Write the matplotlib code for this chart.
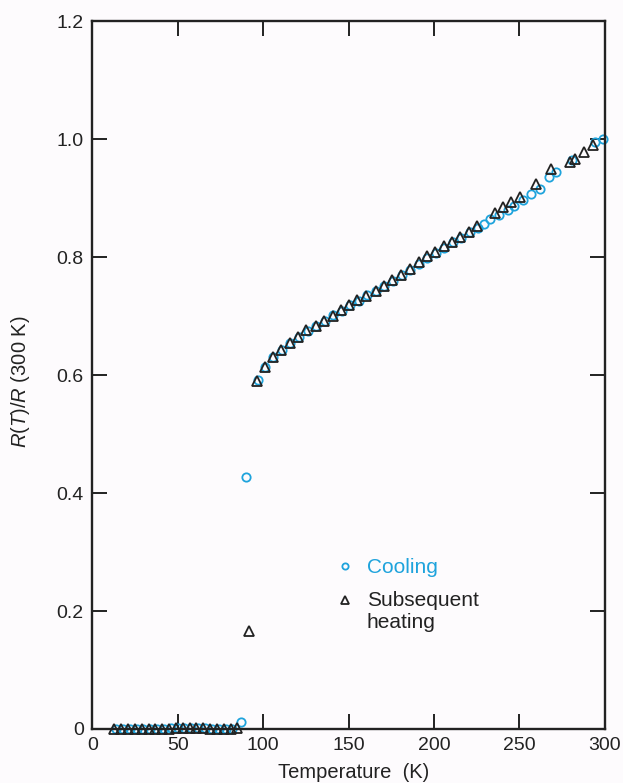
import numpy as np
import matplotlib
matplotlib.use("Agg")
import matplotlib.pyplot as plt
from matplotlib.lines import Line2D
from matplotlib.legend_handler import HandlerLine2D

plt.rcParams['font.family'] = ['Liberation Sans', 'DejaVu Sans']
plt.rcParams['mathtext.fontset'] = 'custom'
plt.rcParams['mathtext.rm'] = 'Liberation Sans'
plt.rcParams['mathtext.it'] = 'Liberation Sans:italic'

BLUE = '#1ea3dc'
INK = '#222222'
BG = '#fdfbfd'

# Cooling run (circles)
cool_T = [14, 18, 22, 26, 30, 34, 38, 42, 46, 50, 54, 58, 62, 66, 70, 74, 78, 82,
          87, 90, 97, 101, 106, 111, 116, 121, 126, 131, 136, 141, 146, 151, 156,
          161, 166, 171, 176, 181, 186, 191, 196, 201, 206, 211, 216, 221, 226,
          229, 233, 238, 243, 247, 252, 257, 262, 267, 271.5, 281, 294, 299]
cool_R = [0.0, 0.0, 0.0, 0.0, 0.0, 0.0, 0.0, 0.0, 0.002, 0.002, 0.002, 0.002,
          0.002, 0.002, 0.0, 0.0, 0.0, 0.0,
          0.012, 0.427, 0.592, 0.613, 0.630, 0.643, 0.655, 0.665, 0.675, 0.684,
          0.692, 0.701, 0.709, 0.718, 0.726, 0.735, 0.743, 0.751, 0.760, 0.769,
          0.778, 0.788, 0.798, 0.807, 0.816, 0.825, 0.833, 0.842, 0.850,
          0.856, 0.864, 0.872, 0.880, 0.887, 0.896, 0.907, 0.916, 0.936, 0.944,
          0.965, 0.995, 1.0]

# Subsequent heating run (triangles)
heat_T = [13, 17, 21, 25, 29, 33, 37, 41, 45, 49, 53, 57, 61, 65, 69, 73, 77, 81, 85,
          92, 96.7, 101, 105.8, 110.7, 115.5, 120.3, 125.2, 131, 135.8, 140.7,
          145.5, 150.4, 155.2, 160, 165.9, 170.7, 175.6, 180.4, 186, 191, 196,
          200.8, 205.6, 210.5, 215.3, 220.2, 225, 235.6, 240.5, 245.3, 250.2,
          259.9, 268.6, 279.3, 282.2, 288, 293]
heat_R = [0.0, 0.0, 0.0, 0.0, 0.0, 0.0, 0.0, 0.0, 0.0, 0.002, 0.002, 0.002,
          0.002, 0.002, 0.0, 0.0, 0.0, 0.0, 0.002,
          0.166, 0.590, 0.614, 0.631, 0.643, 0.654, 0.665, 0.676, 0.683, 0.692,
          0.700, 0.710, 0.719, 0.727, 0.734, 0.743, 0.751, 0.761, 0.769, 0.780,
          0.791, 0.801, 0.809, 0.818, 0.826, 0.834, 0.843, 0.852, 0.874, 0.885,
          0.894, 0.902, 0.924, 0.950, 0.962, 0.967, 0.978, 0.990]

x_ticks = [0, 50, 100, 150, 200, 250, 300]
y_ticks = [0, 0.2, 0.4, 0.6, 0.8, 1.0, 1.2]
y_labels = ['0', '0.2', '0.4', '0.6', '0.8', '1.0', '1.2']


class FirstLineHandler(HandlerLine2D):
    # put the marker beside the first line of a two-line label
    def create_artists(self, legend, orig_handle, xdescent, ydescent,
                       width, height, fontsize, trans):
        arts = super().create_artists(legend, orig_handle, xdescent, ydescent,
                                      width, height, fontsize, trans)
        for a in arts:
            a.set_ydata([y + 0.6 * fontsize for y in a.get_ydata()])
        return arts


fig = plt.figure(figsize=(6.23, 7.83), dpi=100, facecolor=BG)
ax = fig.add_axes([0.148, 0.069, 0.823, 0.904], facecolor=BG)

ax.plot(cool_T, cool_R, 'o', ms=6, mfc='none', mec=BLUE, mew=1.3, clip_on=False)
ax.plot(heat_T, heat_R, '^', ms=7.5, mfc='none', mec=INK, mew=1.3, clip_on=False)

ax.set_xlim(0, 300)
ax.set_ylim(0, 1.2)
ax.set_xticks(x_ticks)
ax.set_yticks(y_ticks)
ax.set_yticklabels(y_labels)
ax.tick_params(direction='in', length=11, width=1.4, color=INK, labelcolor=INK,
               labelsize=14, top=True, right=True, pad=6)
for s in ax.spines.values():
    s.set_linewidth(1.7)
    s.set_color(INK)

ax.set_xlabel('Temperature  (K)', fontsize=14.5, color=INK)
ax.set_ylabel('$R(T)/R$ (300 K)', fontsize=14.5, color=INK)
ax.xaxis.set_label_coords(0.51, -0.048)
ax.yaxis.set_label_coords(-0.117, 0.49)

h_cool = Line2D([], [], ls='none', marker='o', ms=4.5, mfc='none', mec=BLUE, mew=1.3)
h_heat = Line2D([], [], ls='none', marker='^', ms=5.5, mfc='none', mec=INK, mew=1.3)
leg = ax.legend([h_cool, h_heat], ['Cooling', 'Subsequent\nheating'],
                loc='upper left', bbox_to_anchor=(0.477, 0.241), frameon=False,
                fontsize=15, handlelength=0.8, handletextpad=0.65,
                labelspacing=0.67, borderpad=0, borderaxespad=0,
                labelcolor=[BLUE, INK],
                handler_map={h_heat: FirstLineHandler()})

fig.savefig('out.png', dpi=100, facecolor=BG)
